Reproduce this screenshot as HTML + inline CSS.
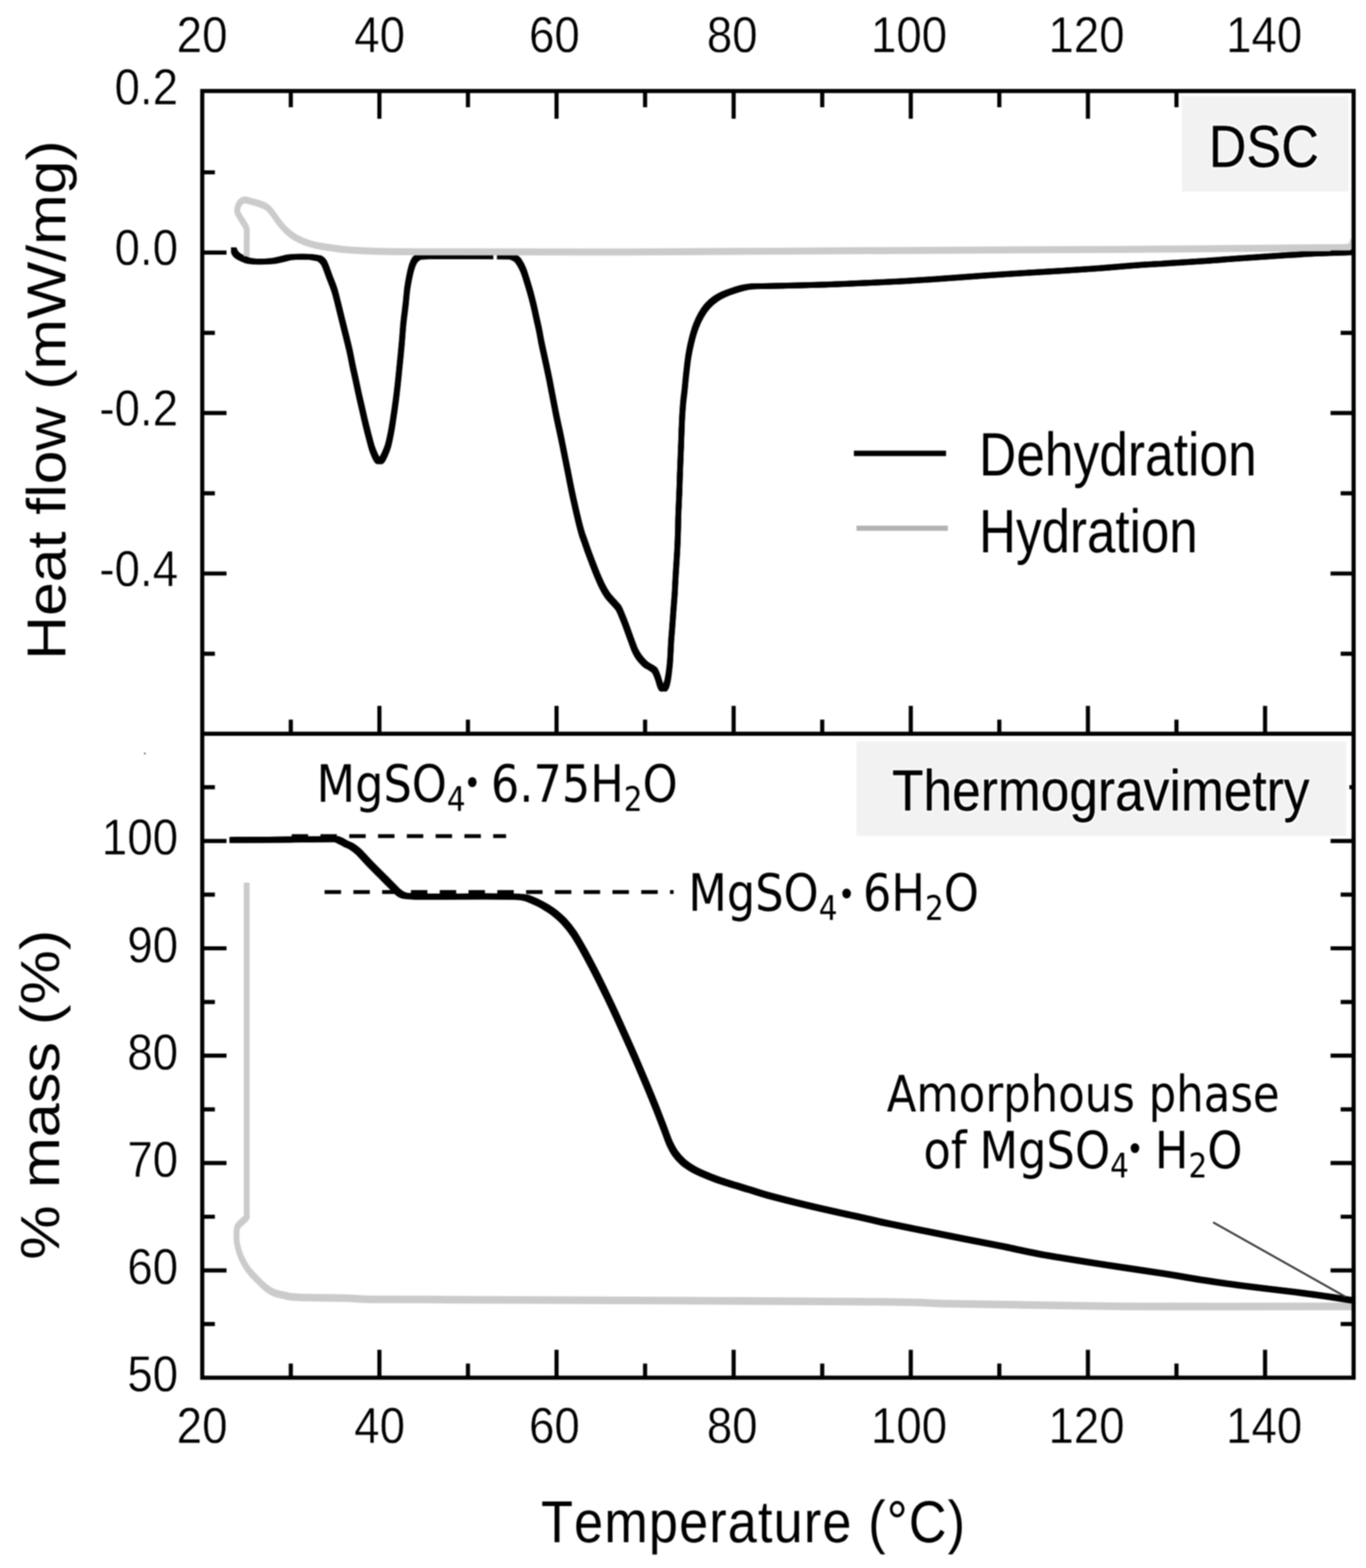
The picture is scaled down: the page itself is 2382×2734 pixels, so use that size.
<!DOCTYPE html>
<html lang="en">
<head>
<meta charset="utf-8">
<title>DSC and thermogravimetry of magnesium sulfate hydrate</title>
<style>
html,body{margin:0;padding:0;background:#fff;}
body{width:2382px;height:2734px;overflow:hidden;font-family:"Liberation Sans",Arial,sans-serif;}
svg{display:block;filter:blur(0.9px);}
text.tk{stroke:#fff;stroke-width:0.7px;stroke-linejoin:round;}
text.bx{stroke:#000;stroke-width:0.5px;stroke-linejoin:round;filter:url(#halo);}
text{white-space:pre;font-kerning:none;font-variant-ligatures:none;text-rendering:geometricPrecision;}
</style>
</head>
<body>
<svg width="2382" height="2734" viewBox="0 0 2382 2734" role="img" aria-label="DSC heat flow and thermogravimetric mass curves versus temperature">
<defs><filter id="halo" x="-5%" y="-20%" width="110%" height="140%" color-interpolation-filters="sRGB"><feMorphology in="SourceAlpha" operator="dilate" radius="2.6" result="d"/><feGaussianBlur in="d" stdDeviation="0.8" result="b"/><feFlood flood-color="#fff" flood-opacity="0.9"/><feComposite in2="b" operator="in" result="h"/><feMerge><feMergeNode in="h"/><feMergeNode in="SourceGraphic"/></feMerge></filter></defs>
<rect x="0" y="0" width="2382" height="2734" fill="#fff"/>
<rect x="2060.8" y="167.7" width="290.9" height="166.3" fill="#f2f2f2"/>
<rect x="1493.4" y="1292.9" width="854.1" height="164.6" fill="#f2f2f2"/>
<defs><path id="dsc-dehydration" d="M407.6,436.0C407.9,436.7 408.6,438.7 409.3,440.0C410.0,441.3 410.8,442.6 412.0,443.8C413.2,445.0 414.3,446.0 416.5,447.3C418.7,448.6 422.1,450.3 425.2,451.6C428.3,452.9 430.3,454.2 435.2,455.0C440.1,455.8 447.8,456.2 454.3,456.2C460.8,456.2 468.4,455.8 474.4,455.2C480.3,454.6 485.2,453.3 490.0,452.3C494.8,451.3 499.3,449.7 503.0,449.0C506.7,448.3 508.5,448.1 512.0,447.9C515.5,447.7 519.2,447.7 524.0,447.7C528.8,447.7 536.4,447.6 540.7,447.9C545.0,448.2 547.2,448.8 550.0,449.3C552.8,449.8 555.4,449.9 557.4,450.8C559.4,451.7 560.4,452.6 562.0,454.5C563.6,456.4 564.7,457.2 566.8,462.1C568.9,467.0 572.1,476.5 574.8,483.6C577.5,490.8 580.4,497.2 582.9,505.0C585.4,512.8 587.4,521.7 589.6,530.4C591.8,539.1 594.0,548.3 596.2,557.2C598.4,566.1 600.7,575.1 602.9,584.0C605.1,592.9 607.3,601.5 609.4,610.8C611.5,620.1 613.4,631.1 615.3,640.0C617.2,648.9 618.9,656.0 620.7,664.4C622.5,672.8 624.3,681.8 626.2,690.2C628.1,698.6 630.0,706.6 631.9,715.0C633.8,723.4 635.9,732.7 637.8,740.4C639.6,748.1 641.2,754.3 643.0,761.0C644.8,767.7 646.6,775.2 648.3,780.6C650.0,786.0 651.8,790.0 653.3,793.5C654.8,797.0 656.1,799.4 657.5,801.3C658.9,803.1 660.2,804.5 661.6,804.6C663.0,804.7 664.2,803.6 665.7,801.8C667.2,799.9 668.5,797.5 670.3,793.5C672.1,789.5 674.6,783.8 676.4,778.0C678.1,772.2 679.4,765.7 680.8,759.0C682.1,752.3 683.3,745.7 684.5,738.0C685.7,730.3 687.0,721.3 688.2,713.0C689.4,704.7 690.5,696.5 691.5,688.0C692.5,679.5 693.5,670.7 694.4,662.0C695.3,653.3 696.3,643.3 697.0,636.0C697.7,628.7 698.2,624.4 698.8,618.0C699.4,611.6 699.9,606.4 700.7,597.4C701.5,588.4 702.3,575.1 703.4,563.9C704.5,552.7 706.3,540.4 707.4,530.4C708.5,520.4 709.0,511.9 710.1,503.7C711.2,495.4 712.8,487.4 714.1,480.9C715.4,474.4 716.7,469.3 718.1,464.8C719.5,460.3 721.3,456.6 722.8,454.1C724.3,451.6 725.5,451.1 727.0,450.0C728.5,448.9 729.0,448.1 732.0,447.6C735.0,447.1 740.3,447.2 745.0,447.1C749.7,447.0 747.5,447.1 760.0,447.1C772.5,447.1 799.2,447.1 820.0,447.1C840.8,447.1 872.8,447.1 885.0,447.2C897.2,447.3 891.2,447.4 893.5,448.0C895.8,448.6 897.2,449.3 899.0,450.5C900.8,451.7 902.0,452.1 904.2,455.4C906.4,458.7 909.8,464.4 912.2,470.2C914.7,476.0 916.7,483.2 918.9,490.3C921.1,497.4 923.6,505.6 925.6,513.0C927.6,520.4 929.3,527.4 931.0,534.5C932.7,541.6 934.1,548.8 935.7,555.9C937.3,563.0 939.0,570.2 940.4,577.3C941.8,584.4 942.9,591.6 944.4,598.7C945.9,605.9 947.5,613.1 949.1,620.2C950.7,627.4 952.2,634.8 953.7,641.6C955.2,648.4 956.1,652.4 957.8,661.0C959.5,669.6 961.9,682.5 964.0,693.5C966.1,704.5 968.3,715.8 970.6,727.0C972.9,738.2 975.5,749.4 977.8,760.5C980.1,771.6 982.3,782.8 984.5,793.9C986.7,805.0 989.0,816.2 991.2,827.4C993.4,838.6 995.5,849.7 997.9,860.9C1000.3,872.1 1002.8,883.2 1005.4,894.4C1008.0,905.6 1011.5,919.8 1013.8,927.9C1016.1,936.0 1017.0,937.4 1019.0,943.0C1021.0,948.6 1023.0,955.0 1025.5,961.8C1028.0,968.5 1030.9,976.2 1033.7,983.5C1036.5,990.8 1039.5,998.5 1042.4,1005.3C1045.3,1012.1 1048.2,1018.6 1051.1,1024.2C1054.0,1029.8 1056.6,1034.4 1059.8,1038.7C1063.0,1043.0 1066.8,1046.7 1070.0,1050.3C1073.2,1053.9 1076.3,1056.5 1078.7,1060.4C1081.1,1064.3 1082.6,1068.9 1084.5,1073.5C1086.4,1078.1 1088.4,1082.9 1090.3,1088.0C1092.2,1093.1 1094.2,1098.7 1096.1,1104.0C1098.0,1109.3 1100.2,1115.3 1101.9,1119.9C1103.6,1124.5 1104.8,1128.1 1106.2,1131.5C1107.7,1134.9 1108.7,1137.0 1110.6,1140.2C1112.5,1143.4 1115.1,1147.2 1117.8,1150.4C1120.5,1153.6 1123.6,1156.8 1126.5,1159.1C1129.4,1161.4 1132.8,1162.5 1135.3,1164.2C1137.8,1165.9 1139.9,1166.5 1141.8,1169.3C1143.7,1172.1 1145.5,1177.0 1146.9,1180.9C1148.4,1184.8 1149.4,1189.5 1150.5,1192.5C1151.6,1195.5 1152.4,1197.8 1153.4,1199.2C1154.4,1200.6 1155.2,1201.0 1156.3,1201.0C1157.3,1201.0 1158.5,1201.1 1159.7,1199.2C1160.9,1197.3 1162.4,1194.1 1163.5,1189.6C1164.6,1185.1 1165.6,1178.7 1166.4,1172.2C1167.2,1165.7 1168.0,1158.9 1168.6,1150.4C1169.2,1141.9 1169.5,1131.1 1170.1,1121.4C1170.7,1111.7 1171.6,1102.1 1172.3,1092.4C1173.0,1082.7 1173.7,1073.0 1174.4,1063.3C1175.1,1053.6 1176.0,1044.0 1176.6,1034.3C1177.2,1024.6 1177.5,1015.7 1178.1,1005.3C1178.7,994.9 1179.7,981.1 1180.2,971.9C1180.8,962.7 1181.1,957.3 1181.4,950.0C1181.7,942.7 1181.9,937.2 1182.2,927.9C1182.5,918.6 1182.6,905.6 1183.0,894.4C1183.4,883.2 1184.1,872.1 1184.5,860.9C1184.9,849.7 1185.1,841.3 1185.6,827.4C1186.1,813.5 1186.9,793.9 1187.6,777.2C1188.2,760.5 1188.8,739.9 1189.5,727.0C1190.2,714.1 1190.8,707.5 1191.5,700.0C1192.2,692.5 1192.7,690.4 1193.6,682.2C1194.5,674.0 1195.5,661.3 1196.7,650.9C1197.9,640.5 1199.0,629.3 1200.6,619.7C1202.2,610.1 1204.0,601.4 1206.1,593.1C1208.2,584.8 1210.4,577.0 1213.1,569.7C1215.8,562.4 1219.1,555.4 1222.5,549.4C1225.9,543.4 1229.2,538.5 1233.4,533.8C1237.6,529.1 1242.5,524.8 1247.5,521.3C1252.5,517.8 1257.6,515.2 1263.1,512.7C1268.6,510.2 1274.8,508.2 1280.3,506.4C1285.8,504.6 1291.0,502.9 1295.9,501.7C1300.9,500.5 1304.0,499.9 1310.0,499.4C1316.0,498.9 1323.1,499.1 1331.9,498.9C1340.8,498.7 1352.7,498.5 1363.1,498.3C1373.5,498.1 1381.6,497.9 1394.4,497.6C1407.2,497.3 1422.4,496.9 1440.0,496.3C1457.6,495.7 1480.0,494.7 1500.0,493.8C1520.0,492.9 1538.8,492.1 1560.0,491.0C1581.2,489.9 1601.0,488.7 1627.0,487.0C1653.0,485.3 1690.3,482.4 1716.3,480.6C1742.3,478.8 1760.9,477.6 1783.2,476.2C1805.5,474.8 1827.9,473.6 1850.2,472.2C1872.5,470.8 1895.8,469.4 1917.1,467.8C1938.4,466.2 1958.9,464.2 1977.9,462.8C1997.0,461.4 2010.2,460.7 2031.4,459.4C2052.6,458.1 2084.6,456.2 2105.1,454.8C2125.6,453.4 2137.5,452.2 2154.2,451.0C2170.9,449.8 2189.5,448.7 2205.5,447.6C2221.5,446.5 2235.3,445.5 2250.2,444.6C2265.1,443.7 2279.9,442.7 2294.8,442.0C2309.7,441.3 2328.8,440.7 2339.5,440.4C2350.2,440.1 2355.5,440.1 2358.7,440.0"/></defs>
<g fill="none" stroke="#000" stroke-linejoin="round" stroke-linecap="round">
<use href="#dsc-dehydration" stroke-width="9.70"/>
<use href="#dsc-dehydration" transform="translate(-3.40,-3.40)" stroke-width="3.20"/>
<use href="#dsc-dehydration" transform="translate(3.40,-3.40)" stroke-width="3.20"/>
<use href="#dsc-dehydration" transform="translate(-3.40,3.40)" stroke-width="3.20"/>
<use href="#dsc-dehydration" transform="translate(3.40,3.40)" stroke-width="3.20"/>
</g>
<rect x="860.3" y="440" width="6.2" height="14" fill="#fff"/>
<path d="M430.2,372.5C430.2,368.8 430.2,356.5 430.2,350.0C430.2,343.5 430.6,336.9 430.2,333.3C429.8,329.7 429.2,330.3 428.0,328.3C426.8,326.4 424.9,324.3 423.1,321.8C421.3,319.4 418.7,315.9 417.1,313.5C415.6,311.1 414.2,309.9 413.8,307.7C413.4,305.4 414.0,302.4 414.8,300.1C415.6,297.8 417.2,295.6 418.8,294.0C420.4,292.4 422.9,291.2 424.7,290.7C426.5,290.1 427.8,290.5 429.5,290.8C431.2,291.0 432.6,291.4 435.2,292.0C437.8,292.6 441.8,293.4 445.2,294.3C448.6,295.1 452.7,296.2 455.3,296.9C457.9,297.7 459.2,298.1 461.0,298.8C462.8,299.6 464.2,300.3 465.8,301.3C467.4,302.4 468.9,303.5 470.5,305.0C472.1,306.5 472.9,307.4 475.4,310.2C477.9,313.0 482.0,318.2 485.4,321.8C488.8,325.5 492.1,329.0 495.5,331.9C498.9,334.8 502.1,337.2 505.5,339.4C508.9,341.7 511.4,343.4 515.6,345.3C519.8,347.3 525.6,349.5 530.6,351.2C535.6,352.8 540.7,354.2 545.7,355.3C550.7,356.5 554.9,357.1 560.8,358.0C566.7,358.9 573.8,359.7 580.9,360.5C588.0,361.3 592.0,362.1 603.2,362.8C614.4,363.6 629.3,364.3 647.9,364.8C666.5,365.3 692.8,365.6 714.8,365.8C736.8,366.0 715.4,366.0 779.6,366.0C843.8,366.0 969.9,366.4 1100.0,366.1C1230.1,365.8 1416.7,364.6 1560.0,364.0C1703.3,363.4 1863.3,362.8 1960.0,362.3C2056.7,361.9 2091.7,361.5 2140.0,361.2C2188.3,360.8 2216.7,360.6 2250.0,360.3C2283.3,360.1 2323.0,360.1 2340.0,359.8C2357.0,359.6 2349.1,359.8 2352.0,359.0C2354.9,358.2 2356.2,356.8 2357.5,355.0C2358.8,353.2 2359.2,349.4 2359.5,348.3" transform="scale(1,1.2)" fill="none" stroke="#cbcbcb" stroke-width="10.2" stroke-linejoin="round" stroke-linecap="butt"/>
<path d="M430.2,1183.8L430.2,1630.0L430.2,1630.8C430.0,1631.3 431.6,1631.5 429.0,1633.8C426.4,1636.2 417.4,1641.0 414.6,1644.6C411.9,1648.2 412.7,1651.4 412.5,1655.4C412.3,1659.4 412.2,1663.6 413.5,1668.7C414.8,1673.8 417.2,1680.4 420.2,1685.8C423.2,1691.3 426.8,1696.4 431.3,1701.3C435.8,1706.2 441.4,1710.6 447.0,1715.1C452.6,1719.5 459.6,1724.8 464.8,1727.9C470.0,1731.1 473.0,1732.3 478.2,1733.9C483.4,1735.5 489.4,1736.4 496.1,1737.4C502.8,1738.4 500.5,1739.3 518.4,1739.9C536.2,1740.6 581.6,1740.7 603.2,1741.2C624.8,1741.6 618.4,1742.4 647.9,1742.7C677.4,1743.0 638.0,1742.6 780.0,1743.1C922.0,1743.6 1352.2,1744.8 1500.0,1745.8C1647.8,1746.7 1590.7,1747.7 1667.0,1748.8C1743.3,1749.8 1842.7,1751.7 1958.0,1752.2C2073.3,1752.8 2292.1,1752.2 2358.9,1752.2" transform="scale(1,1.3)" fill="none" stroke="#cbcbcb" stroke-width="10.2" stroke-linejoin="round" stroke-linecap="butt"/>
<path d="M508.6,1457.9H882.5" fill="none" stroke="#000" stroke-width="6.6" stroke-dasharray="28.7 21.5"/>
<path d="M566,1555.4H1174.6" fill="none" stroke="#000" stroke-width="6.6" stroke-dasharray="28.7 21.5"/>
<defs><path id="tg-dehydration" d="M405.0,1464.6C424.3,1464.5 491.4,1464.1 520.6,1463.8C549.8,1463.5 568.4,1462.9 580.0,1463.0C591.6,1463.1 586.1,1463.1 590.0,1464.5C593.9,1465.9 599.2,1469.3 603.2,1471.3C607.2,1473.3 610.3,1474.1 614.0,1476.5C617.7,1478.9 619.9,1480.0 625.5,1485.5C631.1,1491.0 640.4,1501.6 647.9,1509.3C655.4,1517.0 663.5,1524.9 670.2,1531.6C676.9,1538.3 683.7,1545.3 688.0,1549.5C692.3,1553.7 693.2,1555.0 696.0,1557.0C698.8,1559.0 700.8,1560.6 704.8,1561.6C708.8,1562.6 712.8,1562.7 720.0,1563.0C727.2,1563.3 726.8,1563.4 748.3,1563.4C769.8,1563.4 823.4,1563.0 848.7,1563.0C874.0,1563.0 889.5,1563.3 900.0,1563.6C910.5,1563.9 908.4,1564.0 912.0,1564.6C915.6,1565.2 916.8,1565.1 921.8,1567.0C926.8,1568.9 936.4,1573.2 941.9,1576.0C947.4,1578.8 950.8,1580.9 955.0,1583.6C959.2,1586.2 962.2,1588.0 967.0,1591.9C971.8,1595.8 978.1,1601.0 983.7,1607.0C989.3,1613.0 995.0,1620.1 1000.5,1628.2C1006.0,1636.3 1010.5,1644.5 1016.7,1655.5C1022.9,1666.5 1030.8,1681.5 1037.5,1694.5C1044.2,1707.5 1050.5,1720.5 1056.8,1733.5C1063.1,1746.5 1069.2,1759.5 1075.2,1772.5C1081.2,1785.5 1087.0,1798.5 1092.8,1811.5C1098.6,1824.5 1104.4,1837.4 1110.0,1850.4C1115.6,1863.4 1121.2,1876.4 1126.6,1889.4C1132.0,1902.4 1137.4,1915.4 1142.6,1928.4C1147.8,1941.4 1153.6,1956.7 1157.7,1967.4C1161.8,1978.1 1163.9,1985.2 1167.2,1992.5C1170.5,1999.8 1173.4,2005.4 1177.3,2011.0C1181.2,2016.6 1185.7,2021.5 1190.7,2026.0C1195.7,2030.5 1201.8,2034.4 1207.4,2037.7C1213.0,2041.0 1217.2,2043.0 1224.2,2046.1C1231.2,2049.2 1240.9,2053.1 1249.3,2056.2C1257.7,2059.3 1264.6,2061.4 1274.4,2064.5C1284.2,2067.6 1297.0,2071.3 1307.9,2074.6C1318.8,2077.9 1321.7,2079.5 1340.0,2084.4C1358.3,2089.3 1393.8,2098.2 1417.9,2104.0C1442.0,2109.8 1462.5,2114.0 1484.8,2119.0C1507.1,2124.0 1529.5,2129.3 1551.8,2134.1C1574.1,2138.8 1596.5,2143.0 1618.8,2147.5C1641.1,2152.0 1663.8,2156.6 1685.7,2160.9C1707.6,2165.2 1729.0,2169.2 1750.0,2173.5C1771.0,2177.8 1782.7,2181.2 1811.6,2186.4C1840.5,2191.6 1886.0,2198.8 1923.2,2204.7C1960.4,2210.5 2006.9,2217.1 2034.8,2221.5C2062.7,2225.9 2069.7,2227.8 2090.6,2231.0C2111.5,2234.2 2133.7,2237.6 2160.0,2241.0C2186.3,2244.4 2225.2,2248.8 2248.5,2251.7C2271.8,2254.6 2283.2,2256.1 2300.0,2258.5C2316.8,2260.9 2339.8,2264.5 2349.6,2266.0C2359.4,2267.5 2357.3,2267.2 2358.9,2267.5"/></defs>
<g fill="none" stroke="#000" stroke-linejoin="round" stroke-linecap="round">
<use href="#tg-dehydration" stroke-width="10.28"/>
<use href="#tg-dehydration" transform="translate(-3.60,-3.60)" stroke-width="3.39"/>
<use href="#tg-dehydration" transform="translate(3.60,-3.60)" stroke-width="3.39"/>
<use href="#tg-dehydration" transform="translate(-3.60,3.60)" stroke-width="3.39"/>
<use href="#tg-dehydration" transform="translate(3.60,3.60)" stroke-width="3.39"/>
</g>
<path d="M2115.4,2131.2L2346,2261" fill="none" stroke="#3a3a3a" stroke-width="3.4"/>
<path d="M1489,790.4H1649.7" stroke="#000" stroke-width="9.5" fill="none"/>
<path d="M1493.5,921H1652.9" stroke="#b2b2b2" stroke-width="9" fill="none"/>
<circle cx="252.6" cy="1313.8" r="1.6" fill="#555"/>
<g fill="none" stroke="#000" stroke-width="7.2" stroke-linecap="butt">
<path d="M507.1,158.7v28.4M507.1,1279.4v-24.6M507.1,2402.2v-24.6M661.6,158.7v48.4M661.6,1279.4v-48.6M661.6,2402.2v-48.6M816.0,158.7v28.4M816.0,1279.4v-24.6M816.0,2402.2v-24.6M970.5,158.7v48.4M970.5,1279.4v-48.6M970.5,2402.2v-48.6M1124.9,158.7v28.4M1124.9,1279.4v-24.6M1124.9,2402.2v-24.6M1279.3,158.7v48.4M1279.3,1279.4v-48.6M1279.3,2402.2v-48.6M1433.8,158.7v28.4M1433.8,1279.4v-24.6M1433.8,2402.2v-24.6M1588.2,158.7v48.4M1588.2,1279.4v-48.6M1588.2,2402.2v-48.6M1742.6,158.7v28.4M1742.6,1279.4v-24.6M1742.6,2402.2v-24.6M1897.1,158.7v48.4M1897.1,1279.4v-48.6M1897.1,2402.2v-48.6M2051.5,158.7v28.4M2051.5,1279.4v-24.6M2051.5,2402.2v-24.6M2206.0,158.7v48.4M2206.0,1279.4v-48.6M2206.0,2402.2v-48.6M352.7,300.5h22.0M2360.4,300.5h-22.6M352.7,440.4h42.3M2360.4,440.4h-40.2M352.7,580.3h22.0M2360.4,580.3h-22.6M352.7,720.2h42.3M2360.4,720.2h-40.2M352.7,860.1h22.0M2360.4,860.1h-22.6M352.7,1000.0h42.3M2360.4,1000.0h-40.2M352.7,1139.9h22.0M2360.4,1139.9h-22.6M352.7,2308.7h22.0M2360.4,2308.7h-22.6M352.7,2215.1h42.3M2360.4,2215.1h-40.2M352.7,2121.5h22.0M2360.4,2121.5h-22.6M352.7,2027.9h42.3M2360.4,2027.9h-40.2M352.7,1934.3h22.0M2360.4,1934.3h-22.6M352.7,1840.7h42.3M2360.4,1840.7h-40.2M352.7,1747.1h22.0M2360.4,1747.1h-22.6M352.7,1653.5h42.3M2360.4,1653.5h-40.2M352.7,1559.9h22.0M2360.4,1559.9h-22.6M352.7,1466.3h42.3M2360.4,1466.3h-40.2M352.7,1372.7h22.0M2360.4,1372.7h-22.6"/>
</g>
<rect x="2056.5" y="160" width="301" height="179" fill="#fff"/>
<rect x="2060.8" y="167.7" width="290.9" height="166.3" fill="#f2f2f2"/>
<rect x="1489" y="1283" width="864" height="179" fill="#fff"/>
<rect x="1493.4" y="1292.9" width="854.1" height="164.6" fill="#f2f2f2"/>
<g fill="none" stroke="#000" stroke-width="7.2" stroke-linecap="butt">
<rect x="352.7" y="158.7" width="2007.7" height="2243.5"/>
<path d="M352.7,1279.4H2360.4"/>
</g>
<text class="tk" transform="translate(352.40,90.60) scale(0.9000,1)" font-family='"Liberation Sans", Arial, Helvetica, sans-serif' font-size="88.5" text-anchor="middle" fill="#000">20</text>
<text class="tk" transform="translate(352.40,2515.60) scale(0.9000,1)" font-family='"Liberation Sans", Arial, Helvetica, sans-serif' font-size="88.5" text-anchor="middle" fill="#000">20</text>
<text class="tk" transform="translate(662.08,90.60) scale(0.9000,1)" font-family='"Liberation Sans", Arial, Helvetica, sans-serif' font-size="88.5" text-anchor="middle" fill="#000">40</text>
<text class="tk" transform="translate(662.08,2515.60) scale(0.9000,1)" font-family='"Liberation Sans", Arial, Helvetica, sans-serif' font-size="88.5" text-anchor="middle" fill="#000">40</text>
<text class="tk" transform="translate(966.85,90.60) scale(0.9000,1)" font-family='"Liberation Sans", Arial, Helvetica, sans-serif' font-size="88.5" text-anchor="middle" fill="#000">60</text>
<text class="tk" transform="translate(966.85,2515.60) scale(0.9000,1)" font-family='"Liberation Sans", Arial, Helvetica, sans-serif' font-size="88.5" text-anchor="middle" fill="#000">60</text>
<text class="tk" transform="translate(1276.83,90.60) scale(0.9000,1)" font-family='"Liberation Sans", Arial, Helvetica, sans-serif' font-size="88.5" text-anchor="middle" fill="#000">80</text>
<text class="tk" transform="translate(1276.83,2515.60) scale(0.9000,1)" font-family='"Liberation Sans", Arial, Helvetica, sans-serif' font-size="88.5" text-anchor="middle" fill="#000">80</text>
<text class="tk" transform="translate(1585.21,90.60) scale(0.9000,1)" font-family='"Liberation Sans", Arial, Helvetica, sans-serif' font-size="88.5" text-anchor="middle" fill="#000">100</text>
<text class="tk" transform="translate(1585.21,2515.60) scale(0.9000,1)" font-family='"Liberation Sans", Arial, Helvetica, sans-serif' font-size="88.5" text-anchor="middle" fill="#000">100</text>
<text class="tk" transform="translate(1894.58,90.60) scale(0.9000,1)" font-family='"Liberation Sans", Arial, Helvetica, sans-serif' font-size="88.5" text-anchor="middle" fill="#000">120</text>
<text class="tk" transform="translate(1894.58,2515.60) scale(0.9000,1)" font-family='"Liberation Sans", Arial, Helvetica, sans-serif' font-size="88.5" text-anchor="middle" fill="#000">120</text>
<text class="tk" transform="translate(2204.46,90.60) scale(0.9000,1)" font-family='"Liberation Sans", Arial, Helvetica, sans-serif' font-size="88.5" text-anchor="middle" fill="#000">140</text>
<text class="tk" transform="translate(2204.46,2515.60) scale(0.9000,1)" font-family='"Liberation Sans", Arial, Helvetica, sans-serif' font-size="88.5" text-anchor="middle" fill="#000">140</text>
<text class="tk" transform="translate(310.50,182.10) scale(0.9000,1)" font-family='"Liberation Sans", Arial, Helvetica, sans-serif' font-size="88.5" text-anchor="end" fill="#000">0.2</text>
<text class="tk" transform="translate(310.50,461.90) scale(0.9000,1)" font-family='"Liberation Sans", Arial, Helvetica, sans-serif' font-size="88.5" text-anchor="end" fill="#000">0.0</text>
<text class="tk" transform="translate(310.50,741.70) scale(0.9000,1)" font-family='"Liberation Sans", Arial, Helvetica, sans-serif' font-size="88.5" text-anchor="end" fill="#000">-0.2</text>
<text class="tk" transform="translate(310.50,1021.50) scale(0.9000,1)" font-family='"Liberation Sans", Arial, Helvetica, sans-serif' font-size="88.5" text-anchor="end" fill="#000">-0.4</text>
<text class="tk" transform="translate(310.50,2426.30) scale(0.9000,1)" font-family='"Liberation Sans", Arial, Helvetica, sans-serif' font-size="88.5" text-anchor="end" fill="#000">50</text>
<text class="tk" transform="translate(310.50,2239.10) scale(0.9000,1)" font-family='"Liberation Sans", Arial, Helvetica, sans-serif' font-size="88.5" text-anchor="end" fill="#000">60</text>
<text class="tk" transform="translate(310.50,2051.90) scale(0.9000,1)" font-family='"Liberation Sans", Arial, Helvetica, sans-serif' font-size="88.5" text-anchor="end" fill="#000">70</text>
<text class="tk" transform="translate(310.50,1864.70) scale(0.9000,1)" font-family='"Liberation Sans", Arial, Helvetica, sans-serif' font-size="88.5" text-anchor="end" fill="#000">80</text>
<text class="tk" transform="translate(310.50,1677.50) scale(0.9000,1)" font-family='"Liberation Sans", Arial, Helvetica, sans-serif' font-size="88.5" text-anchor="end" fill="#000">90</text>
<text class="tk" transform="translate(310.50,1490.30) scale(0.9000,1)" font-family='"Liberation Sans", Arial, Helvetica, sans-serif' font-size="88.5" text-anchor="end" fill="#000">100</text>
<text transform="translate(113.68,1150.47) rotate(-90) scale(1.0586,0.9570)" font-family='"Liberation Sans", Arial, Helvetica, sans-serif' font-size="100" fill="#000" >Heat flow (mW/mg)</text>
<text transform="translate(103.22,2196.44) rotate(-90) scale(1.0675,0.9602)" font-family='"Liberation Sans", Arial, Helvetica, sans-serif' font-size="100" fill="#000" >% mass (%)</text>
<text transform="translate(943.42,2689.46) scale(0.9104,1.0312)" font-family='"Liberation Sans", Arial, Helvetica, sans-serif' font-size="100" fill="#000" ><tspan style="letter-spacing:0.022em">Temperature (°C</tspan>)</text>
<text transform="translate(2107.82,291.36) scale(0.9106,1.0352)" font-family='"Liberation Sans", Arial, Helvetica, sans-serif' font-size="100" fill="#000" class="bx">DSC</text>
<text transform="translate(1555.56,1412.62) scale(0.8972,1.0086)" font-family='"Liberation Sans", Arial, Helvetica, sans-serif' font-size="100" fill="#000" class="bx">Thermogravimetry</text>
<text transform="translate(1707.32,829.09) scale(0.8978,1.0688)" font-family='"Liberation Sans", Arial, Helvetica, sans-serif' font-size="100" fill="#000" >Dehydration</text>
<text transform="translate(1707.37,962.99) scale(0.8907,1.0688)" font-family='"Liberation Sans", Arial, Helvetica, sans-serif' font-size="100" fill="#000" >Hydration</text>
<text transform="translate(552.12,1397.80) scale(0.7783,0.8973)" font-family='"DejaVu Sans", "Liberation Sans", sans-serif' font-size="100" fill="#000"><tspan x="0" y="0">MgSO</tspan><tspan style="font-size:66%" dy="0.27em">4</tspan><tspan x="329.2" y="-13.3" font-size="66.7">• </tspan><tspan x="390.4" y="0">6.75H</tspan><tspan style="font-size:66%" dy="0.27em">2</tspan><tspan dy="-0.178em">O</tspan></text>
<text transform="translate(1200.21,1587.80) scale(0.7791,0.8973)" font-family='"DejaVu Sans", "Liberation Sans", sans-serif' font-size="100" fill="#000"><tspan x="0" y="0">MgSO</tspan><tspan style="font-size:66%" dy="0.27em">4</tspan><tspan x="334.7" y="-8.5" font-size="66.6">• </tspan><tspan x="390.9" y="0">6H</tspan><tspan style="font-size:66%" dy="0.27em">2</tspan><tspan dy="-0.178em">O</tspan></text>
<text transform="translate(1546.34,1938.07) scale(0.7568,0.8746)" font-family='"DejaVu Sans", "Liberation Sans", sans-serif' font-size="100" fill="#000" >Amorphous phase</text>
<text transform="translate(1708.00,2037.40) scale(0.7804,0.8959)" font-family='"DejaVu Sans", "Liberation Sans", sans-serif' font-size="100" fill="#000"><tspan x="-125.4" y="0">of </tspan><tspan x="0" y="0">MgSO</tspan><tspan style="font-size:66%" dy="0.27em">4</tspan><tspan x="327.6" y="-14.5" font-size="66.7">• </tspan><tspan x="391.9" y="0">H</tspan><tspan style="font-size:66%" dy="0.27em">2</tspan><tspan dy="-0.178em">O</tspan></text>
</svg>
</body>
</html>
